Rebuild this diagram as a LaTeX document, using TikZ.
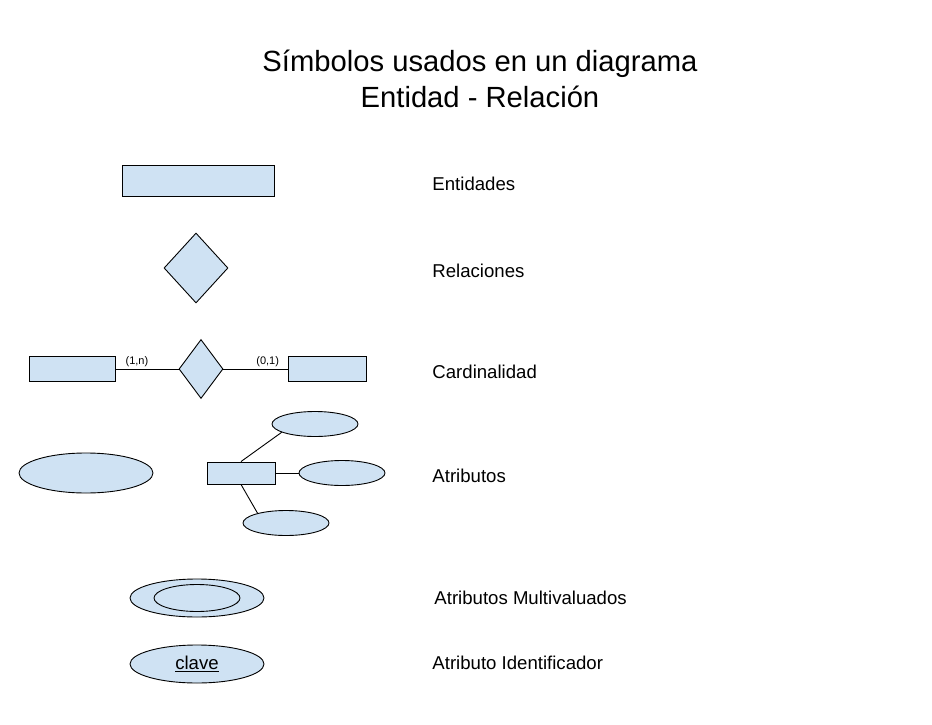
\documentclass[tikz,border=0pt]{standalone}
\usepackage{fontspec}
\setmainfont{Liberation Sans}
\usepackage{xcolor}
\usetikzlibrary{shapes.geometric,positioning}
\definecolor{erfill}{RGB}{207,226,243}

\begin{document}
\begin{tikzpicture}[
  x=1pt,y=-1pt,
  font=\fontsize{18.6}{22}\selectfont,
  ent/.style 2 args={draw,fill=erfill,inner sep=0pt,minimum width=#1,minimum height=#2},
  rel/.style 2 args={diamond,draw,fill=erfill,inner sep=0pt,minimum width=#1,minimum height=#2},
  attr/.style 2 args={ellipse,draw,fill=erfill,inner sep=0pt,minimum width=#1,minimum height=#2},
  lbl/.style={anchor=west,inner sep=0pt},
  card/.style={font=\fontsize{11}{13}\selectfont,inner sep=1.5pt},
  link/.style={line width=0.9pt},
  every node/.append style={line width=0.9pt},
]
\useasboundingbox (0,0) rectangle (932,725);

% title
\node[align=center,font=\fontsize{29.2}{36}\selectfont] (title) at (480,79) {Símbolos usados en un diagrama\\Entidad - Relación};

% symbols
\node[ent={152pt}{31pt}] (ent) at (198,180.5) {};
\node[rel={64pt}{70pt}] (rel) at (196,268) {};

% cardinality
\node[ent={86pt}{25pt}] (cleft) at (72,369) {};
\node[rel={44pt}{59pt}] (crel) at (201,369) {};
\node[ent={78pt}{25pt}] (cright) at (327,369) {};
\draw[link] (cleft.east) -- (crel.west) node[card,pos=.34,above] {(1,n)};
\draw[link] (crel.east) -- (cright.west) node[card,pos=.69,above] {(0,1)};

% attributes
\node[attr={134pt}{40pt}] (abig) at (86,473) {};
\node[ent={68pt}{22pt}] (aent) at (241,473) {};
\node[attr={86pt}{25pt}] (atop) at (315,424) {};
\node[attr={86pt}{25pt}] (aright) at (342,473) {};
\node[attr={86pt}{25pt}] (abot) at (286,523) {};
\draw[link] (aent.north) -- (atop.194);
\draw[link] (aent.east) -- (aright.west);
\draw[link] (aent.south) -- (abot.161);

% multivalued and key attribute
\node[attr={134pt}{38pt}] (amulti) at (197,598) {};
\node[ellipse,draw,inner sep=0pt,minimum width=86pt,minimum height=27pt] (ainner) at (amulti.center) {};
\node[attr={134pt}{38pt}] (akey) at (197,664) {\underline{clave}};

% labels
\node[lbl] (lent) at (432,184) {Entidades};
\node[lbl] (lrel) at (432,271) {Relaciones};
\node[lbl] (lcard) at (432,372) {Cardinalidad};
\node[lbl] (lattr) at (432,476) {Atributos};
\node[lbl] (lmulti) at (434,598) {Atributos Multivaluados};
\node[lbl] (lkey) at (432,663) {Atributo Identificador};
\end{tikzpicture}
\end{document}
